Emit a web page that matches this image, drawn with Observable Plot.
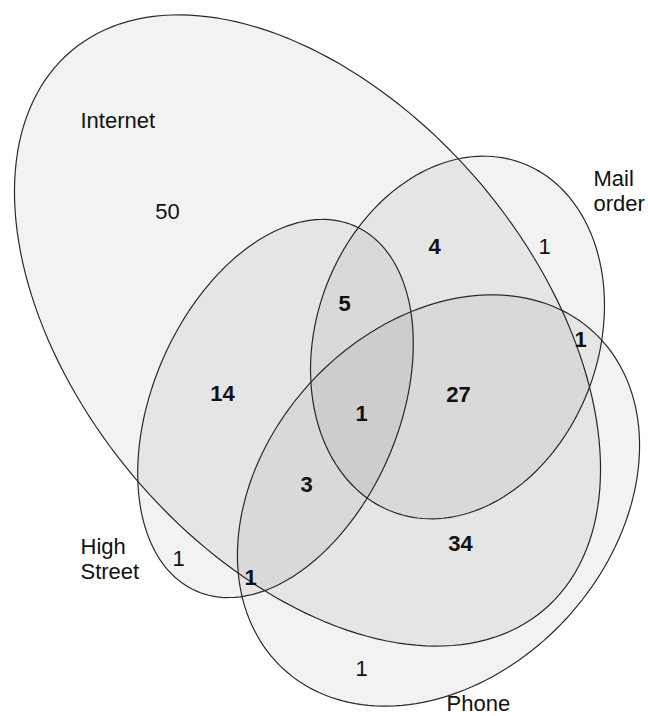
<!DOCTYPE html>
<html>
<head>
<meta charset="utf-8">
<script src="https://cdn.jsdelivr.net/npm/d3@7"></script>
<script src="https://cdn.jsdelivr.net/npm/@observablehq/plot@0.6"></script>
<style>
  html, body { margin: 0; padding: 0; background: #fff; }
  #chart { width: 648px; height: 716px; }
</style>
</head>
<body>
<div id="chart"></div>
<script>
// Sets drawn as ellipses (centre, semi-axes, rotation in degrees)
const sets     = ["Internet", "Mail order", "High Street", "Phone"];
const setCx    = [307, 457, 275, 438];
const setCy    = [330, 337, 408, 500];
const setRx    = [366, 186, 199, 229];
const setRy    = [227, 141, 123, 174];
const setAngle = [49.8, -70, -66.6, -47.4];

// Set name labels
const setLabels  = ["Internet", "Mail\norder", "High\nStreet", "Phone"];
const setLabelX  = [80, 593, 80, 446];
const setLabelY  = [120, 190, 558, 703];

// Region counts
const counts     = [50, 4, 1, 5, 1, 14, 1, 27, 3, 34, 1, 1, 1];
const countX     = [167, 434, 544, 344, 580, 222, 361, 458, 306, 460, 178, 250, 361];
const countY     = [211, 246, 246, 303, 339, 393, 413, 394, 484, 543, 558, 577, 668];
const countBold  = [false, true, false, true, true, true, true, true, true, true, false, true, false];

// Build outline tables for each set
const outline = [];
sets.forEach((s, i) => {
  const th = setAngle[i] * Math.PI / 180;
  const n = 180;
  for (let k = 0; k < n; k++) {
    const t = 2 * Math.PI * k / n;
    const ex = setRx[i] * Math.cos(t), ey = setRy[i] * Math.sin(t);
    outline.push({
      set: s,
      x: setCx[i] + ex * Math.cos(th) - ey * Math.sin(th),
      y: setCy[i] + ex * Math.sin(th) + ey * Math.cos(th)
    });
  }
});

const labelRows = setLabels.map((t, i) => ({t, x: setLabelX[i], y: setLabelY[i]}));
const countRows = counts.map((c, i) => ({t: String(c), x: countX[i], y: countY[i], bold: countBold[i]}));

const font = "'Liberation Sans', Arial, Helvetica, sans-serif";

const chart = Plot.plot({
  width: 648,
  height: 716,
  margin: 0,
  x: {domain: [0, 648], axis: null},
  y: {domain: [716, 0], axis: null},
  style: {fontFamily: font, background: "#fff"},
  marks: [
    Plot.line(outline, {x: "x", y: "y", z: "set", curve: "linear-closed",
      fill: "black", fillOpacity: 0.05, stroke: "#2a2a2a", strokeWidth: 1.2}),
    Plot.text(labelRows, {x: "x", y: "y", text: "t", textAnchor: "start",
      fontSize: 22, lineHeight: 1.12, fill: "#111"}),
    Plot.text(countRows.filter(d => !d.bold), {x: "x", y: "y", text: "t",
      fontSize: 22, fill: "#111"}),
    Plot.text(countRows.filter(d => d.bold), {x: "x", y: "y", text: "t",
      fontSize: 22, fontWeight: "bold", fill: "#111"})
  ]
});
document.getElementById("chart").appendChild(chart);
</script>
</body>
</html>
